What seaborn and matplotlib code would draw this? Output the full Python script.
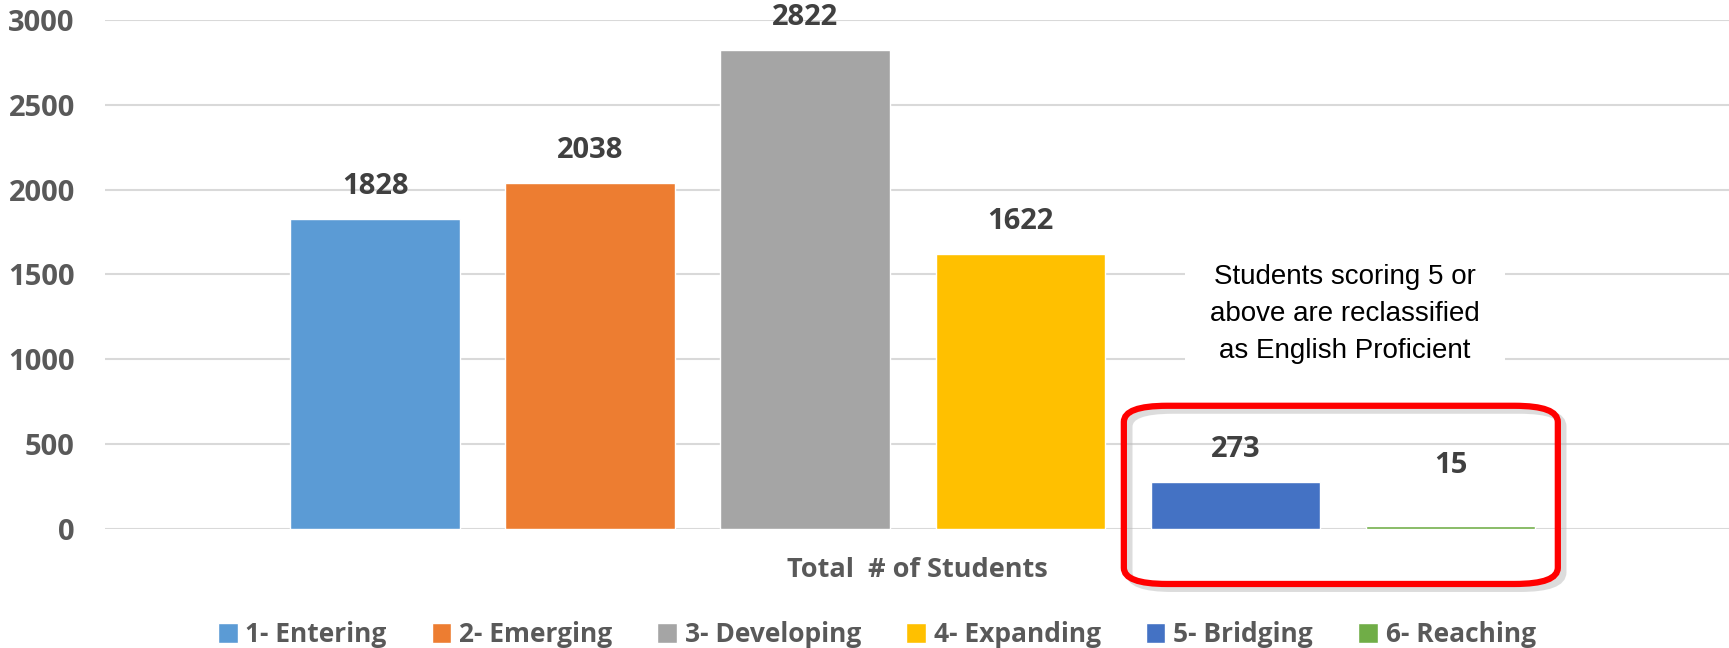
import matplotlib
matplotlib.use("Agg")
import matplotlib.pyplot as plt
import seaborn as sns
import pandas as pd
from matplotlib.patches import FancyBboxPatch

# Data
levels = ["1- Entering", "2- Emerging", "3- Developing", "4- Expanding", "5- Bridging", "6- Reaching"]
students = [1828, 2038, 2822, 1622, 273, 15]
colors = ["#5B9BD5", "#ED7D31", "#A5A5A5", "#FFC000", "#4472C4", "#70AD47"]
category = "Total  # of Students"
note = "Students scoring 5 or\nabove are reclassified\nas English Proficient"

df = pd.DataFrame({"level": levels, "students": students})

sns.set_style("white")
plt.rcParams["font.family"] = ["Open Sans", "DejaVu Sans"]
grey = "#595959"

fig = plt.figure(figsize=(17.29, 6.48), dpi=100)
ax = fig.add_axes([0.061, 0.184, 0.939, 0.785])

sns.barplot(data=df, x="level", y="students", hue="level", palette=colors,
            width=0.79, dodge=False, saturation=1, legend=True, ax=ax)

ax.set_ylim(0, 3000)
ax.set_xlim(-1.255, 6.295)
ax.set_yticks(range(0, 3001, 500))
ax.yaxis.grid(True, color="#D9D9D9", lw=1.5)
ax.set_axisbelow(True)
sns.despine(ax=ax, left=True, bottom=True)
ax.tick_params(axis="y", length=0, pad=22, labelsize=21, labelcolor=grey)
for t in ax.get_yticklabels():
    t.set_fontweight("bold")
ax.set_xticks([])
ax.set_ylabel("")
ax.set_xlabel(category, fontsize=19.5, fontweight="bold", color=grey, labelpad=20)

# data labels
for i, cont in enumerate(ax.containers):
    pad = 33 if i == len(ax.containers) - 1 else 13
    ax.bar_label(cont, padding=pad, fontsize=21, fontweight="bold", color="#404040")

# legend at bottom
sns.move_legend(ax, "center", bbox_to_anchor=(0.475, -0.208), ncol=6,
                frameon=False, title=None, fontsize=19, handlelength=0.75,
                handleheight=0.75, handletextpad=0.3, columnspacing=1.7)
for t in ax.get_legend().get_texts():
    t.set_color(grey)
    t.set_fontweight("bold")

# annotation box
ax.text(4.51, 1266, note, ha="center", va="center", fontsize=20,
        family="Liberation Sans", color="black", linespacing=1.55,
        bbox=dict(facecolor="white", edgecolor="none", pad=18))

# red rounded frame
shadow = FancyBboxPatch((0.650 + 0.003, 0.0988 - 0.007), 0.251, 0.275,
                        boxstyle="round,pad=0,rounding_size=0.025",
                        transform=fig.transFigure, fill=False,
                        edgecolor="#BBBBBB", lw=5, alpha=0.5, clip_on=False)
frame = FancyBboxPatch((0.650, 0.0988), 0.251, 0.275,
                       boxstyle="round,pad=0,rounding_size=0.025",
                       transform=fig.transFigure, fill=False,
                       edgecolor="#FF0000", lw=4.5, clip_on=False)
fig.patches.extend([shadow, frame])

fig.savefig("out.png", dpi=100)
